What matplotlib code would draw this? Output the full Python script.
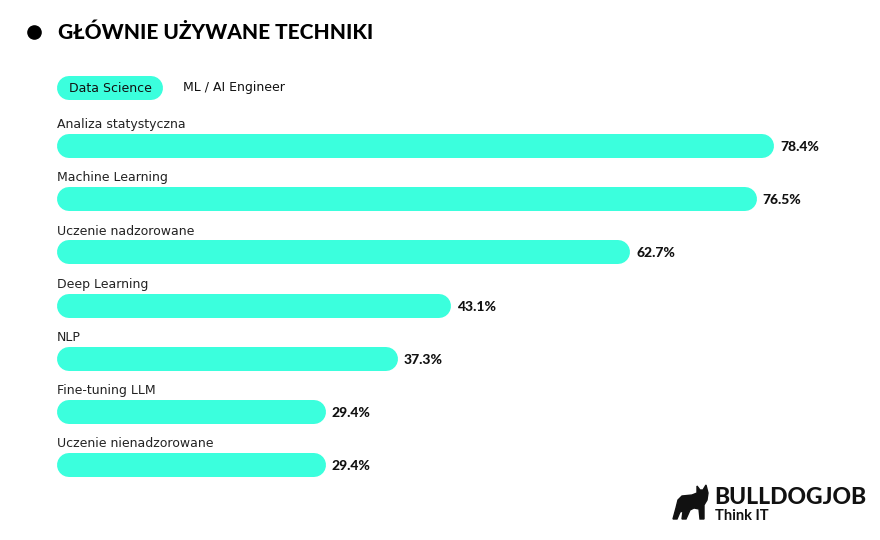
import matplotlib
matplotlib.use('Agg')
import matplotlib.pyplot as plt
from matplotlib.patches import Polygon

categories = ['Analiza statystyczna', 'Machine Learning', 'Uczenie nadzorowane',
              'Deep Learning', 'NLP', 'Fine-tuning LLM', 'Uczenie nienadzorowane']
values = [78.4, 76.5, 62.7, 43.1, 37.3, 29.4, 29.4]
value_labels = ['78.4%', '76.5%', '62.7%', '43.1%', '37.3%', '29.4%', '29.4%']
tabs = ['Data Science', 'ML / AI Engineer']
title = 'GŁÓWNIE UŻYWANE TECHNIKI'

W, H = 880, 540
TEAL = '#3BFFDD'
BODY = ['DejaVu Sans']
HEAD = ['Lato', 'DejaVu Sans']
plt.rcParams['font.family'] = BODY

fig = plt.figure(figsize=(W / 100, H / 100), dpi=100)
fig.patch.set_facecolor('white')

# axes over the whole figure, scaled so one % = 9.145 px, one row = 53.17 px
px_per_pct = 9.145
row_px = 53.17
x0_px, y0_px = 57, 146
ax = fig.add_axes([0, 0, 1, 1])
ax.set_xlim(-x0_px / px_per_pct, (W - x0_px) / px_per_pct)
ax.set_ylim((H - y0_px) / row_px, -y0_px / row_px)
ax.axis('off')

def px(x, y):
    return (x - x0_px) / px_per_pct, (y - y0_px) / row_px

bar_px = 24
r = bar_px / 2 / px_per_pct
lw = bar_px * 72 / 100
for i, (cat, v, lab) in enumerate(zip(categories, values, value_labels)):
    ax.plot([r, v - r], [i, i], color=TEAL, lw=lw, solid_capstyle='round')
    ax.text(0, i - 0.40, cat, fontsize=9.0, color='#222222', va='center', ha='left')
    ax.text(v + 6 / px_per_pct, i + 0.02, lab, fontsize=10, fontweight='black',
            family=HEAD, color='#111111', va='center', ha='left')

# title with bullet
bx, by = px(34, 32)
ax.plot([bx], [by], marker='o', markersize=9.5, color='black')
fig.text(58 / W, 1 - 32 / H, title, fontsize=15, fontweight='black', family=HEAD,
         va='center', ha='left')

# tabs
tx0, ty = px(57, 88)
tx1, _ = px(163, 88)
ax.plot([tx0 + r, tx1 - r], [ty, ty], color=TEAL, lw=lw, solid_capstyle='round')
cx, _ = px(110, 88)
ax.text(cx, ty, tabs[0], fontsize=9.0, color='#111111', va='center', ha='center')
mx, _ = px(183, 88)
ax.text(mx, ty, tabs[1], fontsize=9.0, color='#111111', va='center', ha='left')

# logo
dog = [(673, 519), (676, 508), (678, 500), (682, 496), (692, 495), (697, 493), (697, 486),
       (700, 490), (703, 490), (706, 485), (708, 493), (707, 500), (704, 505), (704, 519),
       (700, 519), (699, 509), (694, 508), (690, 510), (686, 519), (682, 519), (683, 511),
       (680, 512), (677, 519)]
fig.add_artist(Polygon([(x / W, 1 - y / H) for x, y in dog], closed=True,
                       transform=fig.transFigure, color='#111111'))
fig.text(714 / W, 1 - 497 / H, 'BULLDOGJOB', fontsize=16.5, fontweight='black', family=HEAD,
         color='#111111', va='center', ha='left')
fig.text(715 / W, 1 - 516 / H, 'Think IT', fontsize=10.5, fontweight='bold', family=HEAD,
         color='#111111', va='center', ha='left')

fig.savefig('out.png', dpi=100)
